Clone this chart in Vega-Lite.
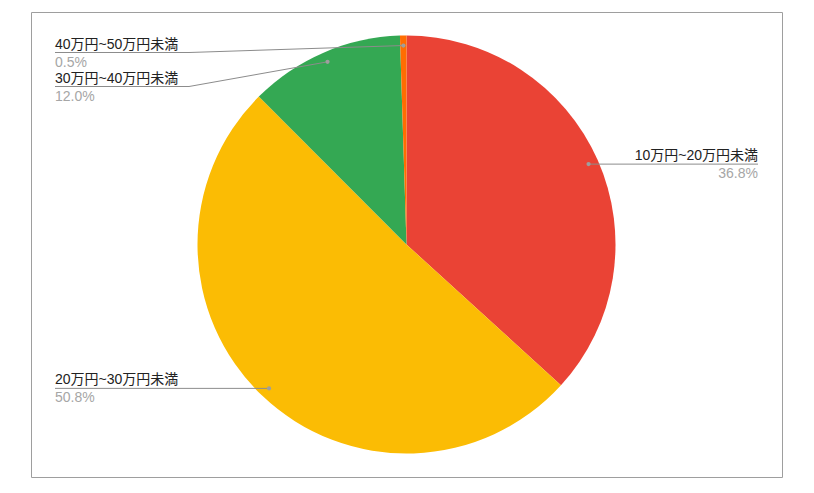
{
  "$schema": "https://vega.github.io/schema/vega-lite/v6.json",
  "width": 814,
  "height": 493,
  "autosize": {"type": "fit", "contains": "padding"},
  "padding": {"left": 31, "top": 12, "right": 32, "bottom": 16},
  "background": "white",
  "data": {
    "values": [
      {"label": "10万円~20万円未満", "value": 36.8, "order": 1},
      {"label": "20万円~30万円未満", "value": 50.8, "order": 2},
      {"label": "30万円~40万円未満", "value": 12.0, "order": 3},
      {"label": "40万円~50万円未満", "value": 0.5, "order": 4}
    ]
  },
  "transform": [
    {"joinaggregate": [{"op": "sum", "field": "value", "as": "total"}]},
    {"window": [{"op": "sum", "field": "value", "as": "cum"}], "sort": [{"field": "order"}], "frame": [null, 0]},
    {"calculate": "2*PI*(datum.cum - datum.value/2)/datum.total", "as": "mid"},
    {"calculate": "199*sin(datum.mid)", "as": "px"},
    {"calculate": "-199*cos(datum.mid)", "as": "py"},
    {"calculate": "datum.mid < PI ? 1 : -1", "as": "side"},
    {"calculate": "max(datum.py, -192)", "as": "ly0"},
    {"window": [{"op": "row_number", "as": "rk"}], "groupby": ["side"], "sort": [{"field": "py"}]},
    {"calculate": "datum.ly0 - 34*datum.rk", "as": "v"},
    {"window": [{"op": "max", "field": "v", "as": "vmax"}], "groupby": ["side"], "sort": [{"field": "py"}], "frame": [null, 0]},
    {"calculate": "datum.vmax + 34*datum.rk", "as": "ly"},
    {"calculate": "datum.side*351.5", "as": "lx"},
    {"calculate": "datum.side*217.5", "as": "kx"},
    {"calculate": "format(datum.value, '.1f') + '%'", "as": "pct"}
  ],
  "layer": [
    {
      "mark": {"type": "arc", "outerRadius": 209},
      "encoding": {
        "theta": {"field": "value", "type": "quantitative", "stack": true},
        "order": {"field": "order", "type": "quantitative"},
        "color": {
          "field": "label",
          "type": "nominal",
          "scale": {
            "domain": ["10万円~20万円未満", "20万円~30万円未満", "30万円~40万円未満", "40万円~50万円未満"],
            "range": ["#EA4335", "#FBBC04", "#34A853", "#FF6D01"]
          },
          "legend": null
        }
      }
    },
    {
      "mark": {"type": "rule", "color": "#8c8c8c", "strokeWidth": 1},
      "encoding": {
        "x": {"field": "lx", "type": "quantitative", "scale": {"domain": [-375.5, 375.5], "nice": false, "zero": false}, "axis": null},
        "x2": {"field": "kx"},
        "y": {"field": "ly", "type": "quantitative", "scale": {"domain": [-232.5, 232.5], "nice": false, "zero": false, "reverse": true}, "axis": null}
      }
    },
    {
      "mark": {"type": "rule", "color": "#8c8c8c", "strokeWidth": 1},
      "encoding": {
        "x": {"field": "kx", "type": "quantitative"},
        "x2": {"field": "px"},
        "y": {"field": "ly", "type": "quantitative"},
        "y2": {"field": "py"}
      }
    },
    {
      "mark": {"type": "point", "filled": true, "size": 18, "color": "#9e9e9e", "opacity": 1},
      "encoding": {
        "x": {"field": "px", "type": "quantitative"},
        "y": {"field": "py", "type": "quantitative"}
      }
    },
    {
      "mark": {
        "type": "text",
        "font": "Liberation Sans, Noto Sans CJK JP, sans-serif",
        "fontSize": 14,
        "color": "#222222",
        "baseline": "alphabetic",
        "dy": -4,
        "align": {"expr": "datum.side > 0 ? 'right' : 'left'"}
      },
      "encoding": {
        "x": {"field": "lx", "type": "quantitative"},
        "y": {"field": "ly", "type": "quantitative"},
        "text": {"field": "label"}
      }
    },
    {
      "mark": {
        "type": "text",
        "font": "Liberation Sans, Noto Sans CJK JP, sans-serif",
        "fontSize": 14,
        "color": "#a6a6a6",
        "baseline": "alphabetic",
        "dy": 14,
        "align": {"expr": "datum.side > 0 ? 'right' : 'left'"}
      },
      "encoding": {
        "x": {"field": "lx", "type": "quantitative"},
        "y": {"field": "ly", "type": "quantitative"},
        "text": {"field": "pct"}
      }
    }
  ],
  "config": {
    "view": {"stroke": "#9e9e9e", "strokeWidth": 1}
  }
}
